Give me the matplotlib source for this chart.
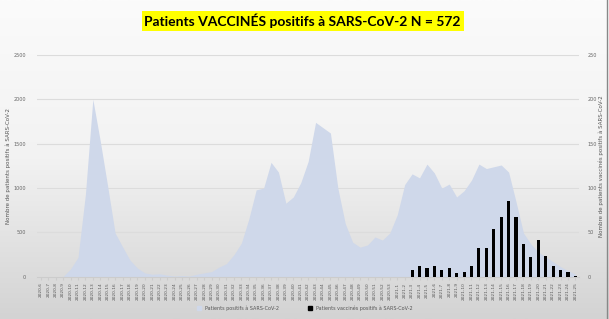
import matplotlib.pyplot as plt
import numpy as np
from matplotlib.patches import Patch
from matplotlib.colors import LinearSegmentedColormap

# semaines (2020-6 ... 2020-53, 2021-1 ... 2021-25)
semaines = ["2020-%d" % s for s in range(6, 54)] + ["2021-%d" % s for s in range(1, 26)]

# patients positifs (axe gauche)
positifs = [0, 0, 0, 5, 90, 220, 930, 2000, 1530, 1020,
            495, 340, 190, 100, 45, 30, 35, 20, 10, 15,
            10, 30, 45, 60, 110, 150, 250, 380, 650, 980,
            1000, 1290, 1180, 830, 900, 1060, 1300, 1740, 1680, 1620,
            1000, 600, 390, 335, 360, 450, 415, 495, 700, 1040,
            1160, 1115, 1270, 1170, 1000, 1045, 900, 970, 1090, 1270,
            1220, 1240, 1260, 1180, 845, 495, 370, 280, 225, 170,
            115, 70, 30]

# patients vaccines positifs (axe droit), a partir de 2021-2
vaccines = [8, 12, 10, 12, 8, 10, 4, 6, 12, 32,
            32, 54, 68, 85, 68, 37, 22, 42, 24, 12,
            8, 5, 1]
debut_vacc = 50

fig = plt.figure(figsize=(6.09, 3.19), dpi=100)

# fond degrade gris
bg = fig.add_axes([0, 0, 1, 1])
grad = np.linspace(0, 1, 256).reshape(-1, 1)
bg.imshow(grad, aspect="auto", extent=[0, 1, 0, 1],
          cmap=LinearSegmentedColormap.from_list("g", ["#fbfbfb", "#f2f2f2", "#d3d3d3"]))
bg.axis("off")

ax = fig.add_axes([0.061, 0.132, 0.890, 0.696])
ax.patch.set_alpha(0)
x = np.arange(len(semaines))
ax.fill_between(x, positifs, color="#cfd8ea", lw=0, zorder=2)
ax.set_ylim(0, 2500)
ax.set_xlim(-0.5, len(semaines) - 0.5)
ax.set_yticks(range(0, 2501, 500))
ax.grid(axis="y", color="#dcdcdc", lw=0.8, zorder=0)
ax.set_xticks(x)
ax.set_xticklabels(semaines, rotation=90, fontsize=3.1, color="#555555")
ax.tick_params(axis="x", length=2, color="#cccccc", pad=2)
ax.tick_params(axis="y", length=0, labelsize=3.5, labelcolor="#666666", pad=8)
for s in ax.spines.values():
    s.set_visible(False)
ax.spines["bottom"].set_visible(True)
ax.spines["bottom"].set_color("#cccccc")
ax.set_ylabel("Nombre de patients positifs à SARS-CoV-2", fontsize=4, color="#555555", labelpad=2)

ax2 = ax.twinx()
xv = np.arange(debut_vacc, debut_vacc + len(vaccines))
ax2.bar(xv, vaccines, width=0.42, color="black", zorder=3)
ax2.set_ylim(0, 250)
ax2.set_yticks(range(0, 251, 50))
ax2.tick_params(axis="y", length=0, labelsize=3.5, labelcolor="#666666", pad=6)
for s in ax2.spines.values():
    s.set_visible(False)
ax2.set_ylabel("Nombre de patients vaccinés positifs à SARS-CoV-2", fontsize=4, color="#555555",
               rotation=90, labelpad=1)

# legende
h = [Patch(color="#cfd8ea"), Patch(color="black")]
fig.legend(h, ["Patients positifs à SARS-CoV-2", "Patients vaccinés positifs à SARS-CoV-2"],
           loc="center", bbox_to_anchor=(0.5, 0.035), ncol=2, frameon=False, fontsize=3.5,
           handlelength=0.8, handleheight=0.8, columnspacing=6, labelcolor="#555555")

# titre
fig.text(0.497, 0.935, "Patients VACCINÉS positifs à SARS-CoV-2 N = 572", ha="center", va="center",
         fontsize=10, fontweight="bold", family="Lato",
         bbox=dict(boxstyle="square,pad=0.2", fc="#ffff00", ec="none"))

# bordure droite
fig.add_artist(plt.Line2D([0.996, 0.996], [0, 1], color="#888888", lw=1))

fig.savefig("out.png", dpi=100)
